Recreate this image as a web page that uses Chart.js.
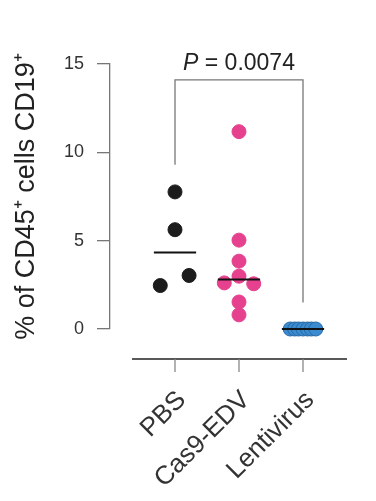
<!DOCTYPE html>
<html>
<head>
<meta charset="utf-8">
<script src="https://cdn.jsdelivr.net/npm/chart.js"></script>
<style>
  html, body { margin: 0; padding: 0; background: #fff; }
  #wrap { width: 376px; height: 501px; }
</style>
</head>
<body>
<div id="wrap"><canvas id="chart" width="376" height="501"></canvas></div>
<script>
// categories and values
const categories = ['PBS', 'Cas9-EDV', 'Lentivirus'];

const pbsValues = [7.76, 5.62, 3.03, 2.46];
const pbsJitter = [0, 0, 0.22, -0.23];

const edvValues = [11.17, 5.03, 3.84, 2.99, 2.61, 2.56, 1.53, 0.80];
const edvJitter = [0, 0, 0, 0, -0.23, 0.23, 0, 0];

const lentiValues = [0, 0, 0, 0, 0, 0, 0];
const lentiJitter = [-0.2, -0.13, -0.07, 0, 0.07, 0.13, 0.2];

const medians = [4.33, 2.80, 0];
const medianHalfWidth = 0.33;

const bracketX = [1, 1, 3, 3];
const bracketY = [9.3, 14.1, 14.1, 1.5];
const pLabel = '0.0074';

const yTicks = [0, 5, 10, 15];

const FONT = "'Liberation Sans', Arial, sans-serif";

function toPoints(values, jitter, pos) {
    return values.map((v, i) => ({ x: pos + jitter[i], y: v }));
}

function medianLines() {
    return medians.map((m, i) => ({
        type: 'line',
        data: [{ x: i + 1 - medianHalfWidth, y: m }, { x: i + 1 + medianHalfWidth, y: m }],
        borderColor: '#111',
        borderWidth: 2,
        pointRadius: 0,
        showLine: true,
        clip: false,
        order: 0
    }));
}

// draws the detached x axis line, its ticks and the P value text
const extras = {
    id: 'extras',
    afterDraw(chart) {
        const ctx = chart.ctx;
        const xs = chart.scales.x;
        const ys = chart.scales.y;
        const yLine = chart.chartArea.bottom + 30;
        ctx.save();
        ctx.strokeStyle = '#222';
        ctx.lineWidth = 1.3;
        ctx.beginPath();
        ctx.moveTo(xs.left + 22, yLine);
        ctx.lineTo(xs.right, yLine);
        ctx.stroke();
        ctx.strokeStyle = '#888';
        categories.forEach((c, i) => {
            const px = xs.getPixelForValue(i + 1);
            ctx.beginPath();
            ctx.moveTo(px, yLine);
            ctx.lineTo(px, yLine + 13);
            ctx.stroke();
        });

        // P value
        const cx = (xs.getPixelForValue(bracketX[0]) + xs.getPixelForValue(bracketX[3])) / 2;
        const by = ys.getPixelForValue(bracketY[1]) - 10;
        ctx.fillStyle = '#222';
        ctx.textBaseline = 'alphabetic';
        ctx.font = 'italic 23px ' + FONT;
        const pW = ctx.measureText('P').width;
        ctx.font = '23px ' + FONT;
        const rest = ' = ' + pLabel;
        const rW = ctx.measureText(rest).width;
        let x0 = cx - (pW + rW) / 2;
        ctx.font = 'italic 23px ' + FONT;
        ctx.fillText('P', x0, by);
        ctx.font = '23px ' + FONT;
        ctx.fillText(rest, x0 + pW, by);
        ctx.restore();
    }
};

new Chart(document.getElementById('chart'), {
    type: 'scatter',
    data: {
        datasets: [
            {
                data: toPoints(pbsValues, pbsJitter, 1),
                backgroundColor: '#1c1c1c', borderColor: '#1c1c1c',
                pointRadius: 7, clip: false, order: 2
            },
            {
                data: toPoints(edvValues, edvJitter, 2),
                backgroundColor: '#e5418e', borderColor: '#e5418e',
                pointRadius: 7, clip: false, order: 2
            },
            {
                data: toPoints(lentiValues, lentiJitter, 3),
                backgroundColor: '#3a8bd0', borderColor: '#2a6aa5', borderWidth: 1,
                pointRadius: 7, clip: false, order: 2
            },
            ...medianLines(),
            {
                type: 'line',
                data: bracketX.map((x, i) => ({ x: x, y: bracketY[i] })),
                borderColor: '#777',
                borderWidth: 1.3,
                pointRadius: 0,
                showLine: true,
                clip: false,
                order: 1
            }
        ]
    },
    options: {
        responsive: false,
        animation: false,
        events: [],
        layout: { padding: { left: 0, top: 64, right: 29, bottom: 0 } },
        plugins: { legend: { display: false }, tooltip: { enabled: false } },
        scales: {
            x: {
                type: 'linear',
                min: -0.0156,
                max: 3.6875,
                afterFit: s => { s.height = 172; },
                afterBuildTicks: s => { s.ticks = categories.map((c, i) => ({ value: i + 1 })); },
                border: { display: false },
                grid: { drawOnChartArea: false, color: 'transparent', tickLength: 44 },
                ticks: {
                    autoSkip: false,
                    minRotation: 45,
                    maxRotation: 45,
                    padding: 12,
                    labelOffset: 7,
                    color: '#333',
                    font: { family: FONT, size: 26 },
                    callback: v => categories[v - 1]
                }
            },
            y: {
                min: 0,
                max: 15,
                afterFit: s => { s.width = 110; },
                afterBuildTicks: s => { s.ticks = yTicks.map(v => ({ value: v })); },
                border: { color: '#777', width: 1.3 },
                grid: { drawOnChartArea: false, color: '#777', lineWidth: 1.3, tickLength: 13 },
                ticks: { padding: 13, color: '#333', font: { family: FONT, size: 18 } },
                title: {
                    display: true,
                    text: '% of CD45⁺ cells CD19⁺',
                    color: '#222',
                    font: { family: FONT, size: 27 },
                    padding: { top: 10, bottom: 0 }
                }
            }
        }
    },
    plugins: [extras]
});
</script>
</body>
</html>
